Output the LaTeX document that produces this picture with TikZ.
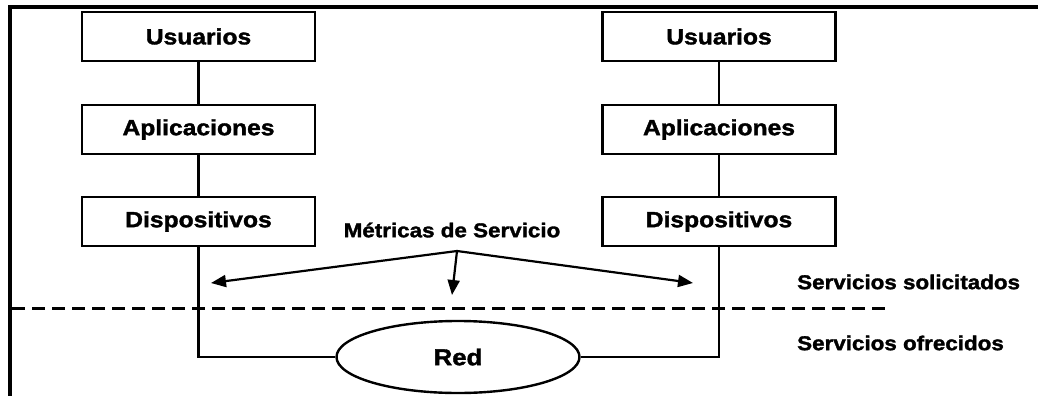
\documentclass[tikz,border=0pt]{standalone}
\usepackage{fontspec}
\setmainfont{Liberation Sans}[FakeStretch=1.12, BoldFeatures={FakeBold=1.6}]
\usetikzlibrary{arrows.meta,shapes.geometric}
\begin{document}
\begin{tikzpicture}[x=1pt,y=-1pt,
  layerbox/.style={draw, line width=2.6pt, minimum width=233pt, minimum height=49pt, inner sep=0pt,
    font=\fontsize{22}{24}\selectfont\bfseries},
  lbl/.style={inner sep=0pt, font=\fontsize{20}{22}\selectfont\bfseries},
  link/.style={line width=2.2pt},
  metric/.style={line width=2.2pt, -{Triangle[length=15pt,width=12pt]}}]
\useasboundingbox (0,0) rectangle (1038,396);
\fill[white] (0,0) rectangle (1038,396);
% frame
\coordinate (tl) at (10,7);
\coordinate (tr) at (1038,7);
\coordinate (bl) at (10,396);
\draw[line width=3.5pt] (tr) -- (tl) -- (bl);
% left stack
\node[layerbox] (uL) at (198.5,36.5) {Usuarios};
\node[layerbox] (aL) at (198.5,129.5) {Aplicaciones};
\node[layerbox] (dL) at (198.5,221.5) {Dispositivos};
% right stack
\node[layerbox] (uR) at (719,36.5) {Usuarios};
\node[layerbox] (aR) at (719,129.5) {Aplicaciones};
\node[layerbox] (dR) at (719,221.5) {Dispositivos};
\draw[link] (uL) -- (aL);
\draw[link] (aL) -- (dL);
\draw[link] (uR) -- (aR);
\draw[link] (aR) -- (dR);
% network
\node[ellipse, draw, line width=2.4pt, minimum width=243pt, minimum height=72pt, inner sep=0pt,
  font=\fontsize{23}{25}\selectfont\bfseries] (red) at (458,357) {Red};
\draw[link] (dL.south) |- (red.west);
\draw[link] (dR.south) |- (red.east);
% dashed separator
\coordinate (ds) at (12,308);
\coordinate (de) at (892,308);
\draw[line width=3pt, dash pattern=on 13pt off 7pt] (ds) -- (de);
% metrics
\node[lbl] (met) at (452,230) {Métricas de Servicio};
\coordinate (apex) at (457,251);
\coordinate (tipL) at (211,283);
\coordinate (tipR) at (693,283);
\coordinate (tipM) at (452,295);
\draw[metric] (apex) -- (tipL);
\draw[metric] (apex) -- (tipR);
\draw[metric] (apex) -- (tipM);
% side labels
\node[lbl, anchor=west] (sol) at (797,282) {Servicios solicitados};
\node[lbl, anchor=west] (ofr) at (797,343) {Servicios ofrecidos};
\end{tikzpicture}
\end{document}
